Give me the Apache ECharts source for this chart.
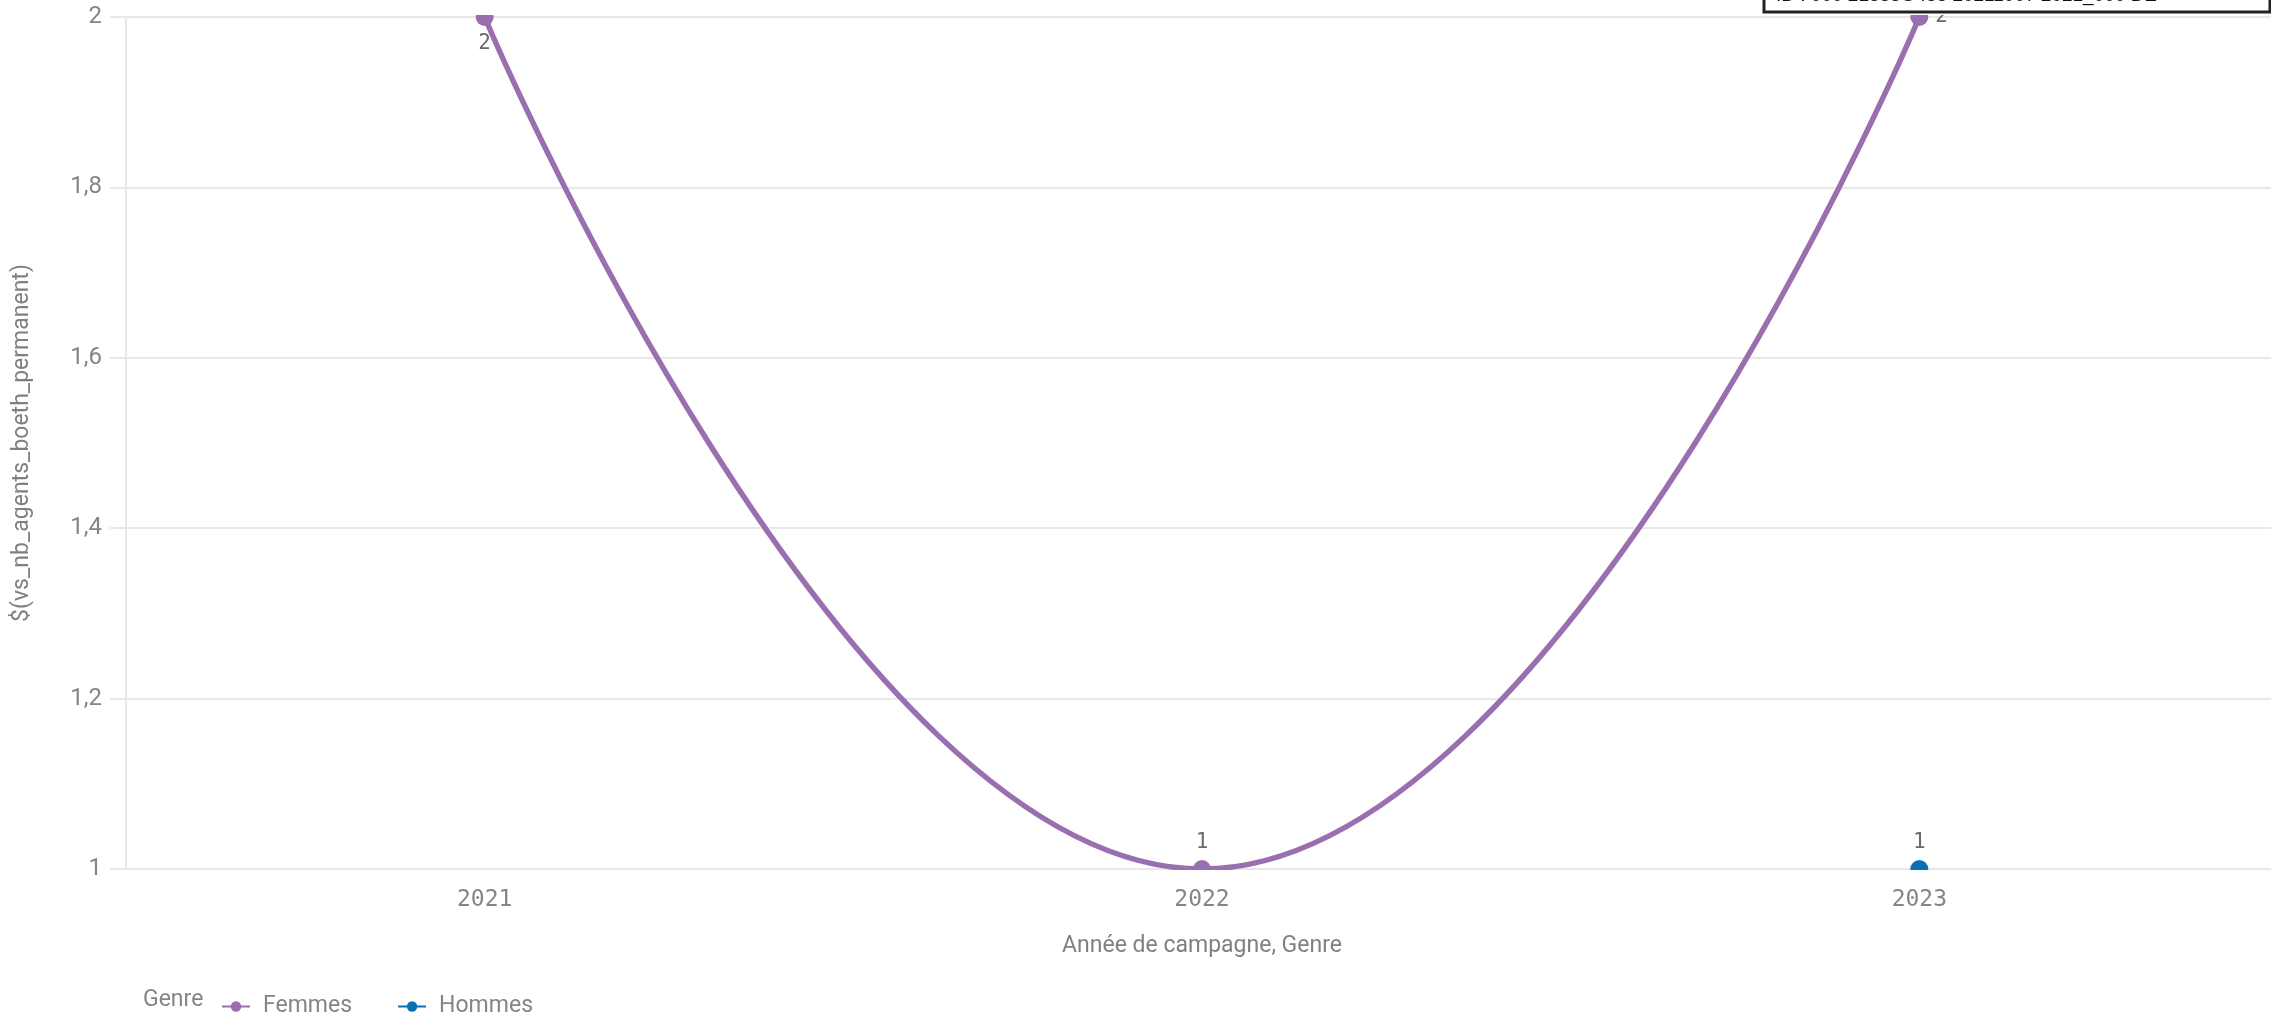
<!DOCTYPE html>
<html>
<head>
<meta charset="utf-8">
<script src="https://cdn.jsdelivr.net/npm/echarts@6/dist/echarts.min.js"></script>
<style>
html,body{margin:0;padding:0;background:#fff;overflow:hidden;}
#c{width:2280px;height:1020px;}
</style>
</head>
<body>
<div id="c"></div>
<script>
const categories = ['2021', '2022', '2023'];
const femmesValues = [2, 1, 2];
const hommesValues = [null, null, 1];
const yTicks = [1, 1.2, 1.4, 1.6, 1.8, 2];
const femmesLabelPos = ['bottom', 'top', 'right'];

const PURPLE = '#9a6fb0';
const BLUE = '#0b6fb4';
const GREY = '#858585';
const MONO = '"DejaVu Sans Mono", monospace';
const SANS = 'Roboto, "Noto Sans", sans-serif';

const chart = echarts.init(document.getElementById('c'));
chart.setOption({
  animation: false,
  backgroundColor: '#fff',
  grid: { left: 126, top: 17, width: 2152, height: 852, containLabel: false },
  xAxis: {
    type: 'category',
    data: categories,
    boundaryGap: true,
    name: 'Année de campagne, Genre',
    nameLocation: 'middle',
    nameGap: 66,
    nameTextStyle: { color: '#808080', fontSize: 23, fontFamily: SANS },
    axisLine: { show: false },
    axisTick: { show: false },
    axisLabel: { color: GREY, fontSize: 23, fontFamily: MONO, margin: 20 }
  },
  yAxis: {
    type: 'value',
    min: yTicks[0], max: yTicks[yTicks.length - 1], interval: 0.2,
    name: '$(vs_nb_agents_boeth_permanent)',
    nameLocation: 'middle',
    nameRotate: 90,
    nameGap: 92,
    nameTextStyle: { color: '#808080', fontSize: 23, fontFamily: SANS },
    axisLine: { show: true, lineStyle: { color: '#e8e8e8', width: 2 } },
    axisTick: { show: true, length: 16, lineStyle: { color: '#e8e8e8', width: 2 } },
    splitLine: { show: true, lineStyle: { color: '#e8e8e8', width: 2 } },
    axisLabel: {
      color: GREY, fontSize: 24, fontFamily: SANS, margin: 24,
      formatter: v => String(Math.round(v * 10) / 10).replace('.', ',')
    }
  },
  legend: {
    left: 216, top: 990,
    itemWidth: 28, itemHeight: 13, itemGap: 45,
    textStyle: { color: GREY, fontSize: 23, fontFamily: SANS, padding: [0, 0, 0, 8] },
    data: ['Femmes', 'Hommes']
  },
  series: [
    {
      name: 'Femmes',
      type: 'line',
      smooth: 0.5,
      data: femmesValues.map((v, i) => ({ value: v, label: { position: femmesLabelPos[i] } })),
      lineStyle: { color: PURPLE, width: 5.5 },
      itemStyle: { color: PURPLE },
      symbol: 'circle',
      symbolSize: 18,
      clip: true,
      label: { show: true, color: '#6a6a6a', fontSize: 21, fontFamily: MONO, distance: 7 },
      z: 3
    },
    {
      name: 'Hommes',
      type: 'line',
      data: hommesValues,
      lineStyle: { color: BLUE, width: 5.5 },
      itemStyle: { color: BLUE },
      symbol: 'circle',
      symbolSize: 18,
      clip: true,
      label: { show: true, position: 'top', color: '#6a6a6a', fontSize: 21, fontFamily: MONO, distance: 7 },
      z: 3
    }
  ],
  graphic: [
    {
      type: 'rect', z: 50, silent: true,
      shape: { x: 128, y: 0, width: 2160, height: 15 },
      style: { fill: '#fff' }
    },
    {
      type: 'rect', z: 50, silent: true,
      shape: { x: 128, y: 870, width: 2160, height: 14 },
      style: { fill: '#fff' }
    },
    {
      type: 'text', left: 143, top: 989, z: 50,
      style: { text: 'Genre', fill: GREY, fontSize: 23, fontFamily: SANS }
    },
    {
      type: 'rect', z: 100,
      shape: { x: 1764, y: -12, width: 506, height: 24 },
      style: { fill: '#fff', stroke: '#222', lineWidth: 3 }
    },
    {
      type: 'text', z: 101, x: 1776, y: -14,
      style: { text: 'ID : 000 21888O488 20211007 2021_000 DE', fill: '#111', fontSize: 19, fontFamily: '"Liberation Sans", Arial, sans-serif' }
    }
  ]
});
</script>
</body>
</html>
